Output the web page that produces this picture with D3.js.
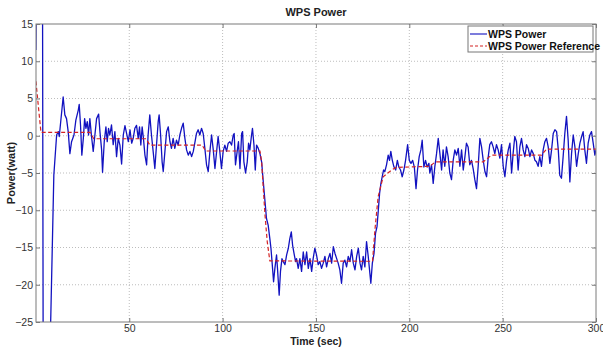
<!DOCTYPE html>
<html>
<head>
<meta charset="utf-8">
<script src="https://d3js.org/d3.v7.min.js"></script>
<style>
  body { margin: 0; background: #fff; }
  svg { display: block; font-family: "Liberation Sans", Arial, sans-serif; }
</style>
</head>
<body>
<div id="chart"></div>
<script>
// Measured WPS power (time in sec, power in watt)
const powerTime = [
    0, 0.8, 3.4, 4.0, 6.0, 8.0, 9.6, 11.1, 12.0, 12.5, 14.6, 15.5, 16.4, 17.3, 18.2, 19.1, 20.4, 21.4, 22.7, 23.2,
    23.9, 24.6, 25.4, 26.1, 26.8, 27.5, 28.2, 28.9, 29.8, 30.7, 31.6, 32.5, 33.6, 34.3, 35.2, 35.7, 36.6, 37.5, 38.2, 38.9,
    39.6, 40.5, 41.4, 42.3, 43.2, 44.1, 45.0, 45.9, 46.8, 47.7, 48.6, 49.5, 50.4, 51.3, 52.1, 53.0, 53.9, 54.8, 55.5, 56.2,
    56.9, 57.6, 58.4, 59.3, 60.1, 61.0, 61.9, 62.8, 63.7, 64.6, 65.5, 66.0, 66.8, 67.6, 68.2, 69.1, 70.0, 70.9, 71.8, 72.6,
    73.5, 74.4, 75.3, 76.2, 77.1, 78.0, 78.9, 79.8, 80.7, 81.6, 82.5, 83.4, 84.3, 85.1, 86.0, 86.9, 87.8, 88.7, 89.6, 90.5,
    91.4, 92.3, 93.2, 94.1, 95.0, 95.9, 96.8, 97.6, 98.5, 99.4, 100.3, 101.2, 102.1, 103.0, 103.9, 104.8, 105.7, 106.2, 106.9, 107.8,
    108.5, 109.3, 110.2, 110.7, 111.4, 112.3, 113.2, 113.9, 114.6, 115.5, 116.0, 116.8, 117.5, 118.2, 119.1, 120.0, 120.9, 121.8, 122.7, 123.5,
    124.4, 125.3, 125.9, 126.6, 127.3, 128.0, 128.9, 129.4, 130.3, 131.0, 131.8, 132.5, 133.4, 134.3, 135.2, 136.0, 136.8, 137.5, 138.4, 139.1,
    139.6, 140.5, 141.4, 142.3, 143.2, 144.1, 145.0, 145.9, 146.8, 147.7, 148.5, 149.4, 150.3, 151.2, 152.1, 153.0, 153.9, 154.8, 155.7, 156.6,
    157.5, 158.4, 159.3, 160.2, 161.1, 161.9, 162.8, 163.7, 164.6, 165.5, 166.4, 167.3, 168.2, 169.1, 170.0, 170.9, 171.8, 172.7, 173.6, 174.4,
    175.3, 176.2, 177.1, 178.0, 178.9, 179.4, 180.2, 181.1, 181.9, 182.7, 183.4, 184.1, 184.8, 185.5, 186.2, 186.9, 187.8, 188.7, 189.4, 190.1,
    190.9, 191.8, 192.7, 193.6, 194.4, 195.3, 196.2, 197.1, 198.0, 199.1, 200.0, 200.9, 201.8, 202.7, 203.6, 204.4, 205.3, 206.2, 206.9, 207.8,
    208.7, 209.6, 210.5, 211.0, 211.9, 212.8, 213.7, 214.6, 215.5, 216.4, 217.3, 218.1, 219.0, 219.9, 220.8, 221.7, 222.6, 223.5, 224.4, 225.3,
    226.2, 227.1, 228.0, 228.9, 229.8, 230.6, 231.5, 232.4, 233.3, 234.2, 235.1, 236.0, 236.9, 237.8, 238.7, 239.6, 240.5, 241.4, 242.3, 243.1,
    244.0, 244.9, 245.8, 246.7, 247.6, 248.5, 249.4, 250.3, 251.2, 252.1, 253.0, 253.9, 254.8, 255.6, 256.5, 257.4, 258.3, 259.2, 260.1, 261.0,
    261.9, 262.8, 263.7, 264.6, 265.5, 266.4, 267.3, 268.1, 269.0, 269.9, 270.8, 271.7, 272.6, 273.5, 274.4, 275.3, 276.2, 277.1, 278.0, 278.9,
    279.8, 280.6, 281.5, 282.4, 283.3, 284.2, 285.1, 286.0, 286.9, 287.8, 288.7, 289.6, 290.5, 291.4, 292.3, 293.1, 294.0, 294.9, 295.8, 296.7,
    297.6, 298.5, 299.4, 300.0
];
const powerValue = [
    11.5, 40, 40, -45, -45, -24, -5.3, 0.1, 0.55, -0.1, 5.2, 2.8, 2.3, 0.55, -2.4, -0.8, 0.1, 2.1, 3.45, 4.2,
    1.45, -2.6, -0.35, 2.3, 1.0, 1.9, 0.1, 2.3, -0.1, -2.1, 0.1, 2.3, 2.9, 0.55, -1.9, -4.9, -0.8, 1.2, -0.8, 1.0,
    0.1, 1.45, -1.2, 0.55, -2.8, -0.35, -1.25, -3.8, 0.1, 1.35, 0.3, -0.8, 0.8, -1.0, -0.35, 1.0, 1.4, -0.35, 1.2, -1.25,
    1.2, -0.35, -2.6, -3.9, 0.1, 2.8, 0.1, -2.1, -4.4, -1.25, 1.9, 2.8, 0.1, -3.5, -4.8, -2.1, 0.55, 1.2, -0.8, -1.7,
    -0.35, -1.7, -0.6, -1.25, 0.1, 1.0, 1.7, -0.35, -1.9, -2.6, -2.1, -2.8, -2.1, -1.0, 0.3, 0.8, 0.1, 1.0, 0.3, -1.7,
    -3.9, -4.8, -2.1, 0.1, -1.9, -4.4, -2.1, -0.1, -2.1, -4.4, -2.1, -1.25, -2.1, -1.0, -0.8, -1.25, 0.1, 0.3, -3.9, -2.1,
    -0.8, -4.4, 0.3, 0.55, -3.5, -5.0, -3.5, -1.0, -1.9, 0.1, 1.0, -1.25, -4.6, -1.25, -1.7, -2.4, -3.5, -6.2, -8.8, -11.1,
    -12.0, -13.8, -15.1, -17.3, -19.6, -17.8, -16.0, -17.8, -21.4, -18.2, -16.5, -16.9, -17.3, -16.0, -15.1, -13.8, -12.9, -14.7, -16.0, -16.9,
    -16.5, -17.8, -16.5, -18.2, -15.6, -17.3, -15.6, -17.8, -16.5, -18.2, -16.5, -15.1, -16.0, -17.3, -16.9, -17.8, -17.1, -16.2, -17.6, -16.5,
    -15.8, -17.1, -14.9, -15.8, -16.5, -17.1, -18.0, -19.8, -17.1, -16.7, -17.6, -16.2, -16.9, -15.3, -17.1, -18.0, -16.2, -15.1, -17.1, -18.0,
    -16.2, -17.6, -14.2, -16.2, -18.5, -19.8, -17.1, -15.8, -13.1, -12.2, -10.0, -7.7, -6.4, -5.5, -4.6, -4.8, -3.9, -2.6, -3.3, -2.1,
    -3.3, -4.2, -4.6, -3.3, -4.2, -4.6, -5.5, -4.6, -3.3, -1.2, -3.3, -3.7, -3.3, -4.2, -7.1, -4.6, -2.8, -1.9, -0.6, -4.2,
    -3.3, -4.2, -3.7, -5.0, -3.9, -6.4, -4.1, -2.4, -0.35, -2.4, -4.6, -1.9, -4.1, -1.5, -2.8, -5.0, -5.9, -3.3, -1.9, -2.6,
    -1.7, -4.1, -1.9, -4.6, -2.8, -1.0, -1.5, -3.9, -3.3, -4.4, -5.9, -7.1, -4.1, -0.35, -1.5, -3.3, -4.8, -5.5, -2.8, -1.2,
    -0.8, -1.5, -2.4, -1.2, -1.9, -3.0, -1.2, -4.1, -5.5, -3.3, -1.9, -1.0, -5.0, -2.4, -0.1, -0.8, -4.6, -1.5, -0.35, -1.9,
    -2.8, -1.2, -1.7, -2.8, -1.9, -2.4, -3.3, -3.5, -4.1, -2.8, -4.1, -1.9, -0.8, -0.35, -1.5, -3.7, -1.9, 0.3, 0.8, 0.55,
    -1.9, -5.3, -5.7, -2.8, 0.3, 2.6, -0.6, -6.2, -2.4, 0.1, -1.5, -4.1, -2.4, -1.0, -0.1, 0.55, -1.9, -3.7, -1.0, 0.1,
    0.55, -1.0, -2.6, -1.9
];

// Power reference (time in sec, power in watt)
const refTime = [
    0, 2.7, 29, 31, 59, 61, 89, 91, 120.0, 120.9, 121.8, 122.7, 123.9, 125.3, 180.3, 181.6, 183.3, 186, 190.5, 193,
    211, 214, 239.6, 244, 270.8, 273.5, 300
];
const refValue = [
    7.3, 0.45, 0.45, -0.4, -0.4, -1.25, -1.25, -2.05, -2.05, -3.5, -7.1, -10.6, -14.2, -16.8, -16.85, -12.6, -8.2, -5.5, -4.6, -4.25,
    -4.1, -3.5, -3.5, -2.6, -2.6, -1.8, -1.8
];

const xTicks = [50, 100, 150, 200, 250, 300];
const yTicks = [-25, -20, -15, -10, -5, 0, 5, 10, 15];
const legendLabels = ["WPS Power", "WPS Power Reference"];

const W = 603, H = 348;
const margin = { top: 24, right: 7, bottom: 26, left: 36 };
const width = W - margin.left - margin.right;
const height = H - margin.top - margin.bottom;

const svg = d3.select("#chart").append("svg")
    .attr("width", W)
    .attr("height", H);

const g = svg.append("g")
    .attr("transform", `translate(${margin.left},${margin.top})`);

const x = d3.scaleLinear().domain([0.05, 300]).range([0, width]);
const y = d3.scaleLinear().domain([-25, 15]).range([height, 0]);

// grid
g.append("g").selectAll("line")
    .data(xTicks.filter(d => d < 300))
    .join("line")
    .attr("x1", d => x(d)).attr("x2", d => x(d))
    .attr("y1", 0).attr("y2", height)
    .attr("stroke", "#bdbdbd").attr("stroke-dasharray", "1,2");

g.append("g").selectAll("line")
    .data(yTicks.filter(d => d > -25 && d < 15))
    .join("line")
    .attr("x1", 0).attr("x2", width)
    .attr("y1", d => y(d)).attr("y2", d => y(d))
    .attr("stroke", "#bdbdbd").attr("stroke-dasharray", "1,2");

// lines
svg.append("defs").append("clipPath").attr("id", "clip")
    .append("rect").attr("width", width).attr("height", height);

const power = powerTime.map((t, i) => ({ t, v: powerValue[i] }));
const ref = refTime.map((t, i) => ({ t, v: refValue[i] }));

const line = d3.line().x(d => x(d.t)).y(d => y(d.v));

const lines = g.append("g").attr("clip-path", "url(#clip)");

lines.append("path")
    .datum(power)
    .attr("d", line)
    .attr("fill", "none")
    .attr("stroke", "#1212c0")
    .attr("stroke-width", 1.3)
    .attr("stroke-linejoin", "round");

lines.append("path")
    .datum(ref)
    .attr("d", line)
    .attr("fill", "none")
    .attr("stroke", "#d42222")
    .attr("stroke-width", 1.2)
    .attr("stroke-dasharray", "4,2.5");

// axes (ticks inward, like matlab)
const axisColor = "#7a7a7a";
const styleAxis = sel => {
    sel.selectAll(".domain").remove();
    sel.selectAll(".tick line").attr("stroke", axisColor);
    sel.selectAll("text").attr("fill", "#333").style("font-size", "10.5px");
};

g.append("g")
    .attr("transform", `translate(0,${height})`)
    .call(d3.axisBottom(x).tickValues(xTicks).tickSizeInner(-4).tickSizeOuter(0).tickPadding(3))
    .call(styleAxis);

g.append("g")
    .call(d3.axisTop(x).tickValues(xTicks).tickSizeInner(-4).tickSizeOuter(0).tickFormat(""))
    .call(styleAxis);

g.append("g")
    .call(d3.axisLeft(y).tickValues(yTicks).tickSizeInner(-4).tickSizeOuter(0).tickPadding(3))
    .call(styleAxis);

g.append("g")
    .attr("transform", `translate(${width},0)`)
    .call(d3.axisRight(y).tickValues(yTicks).tickSizeInner(-4).tickSizeOuter(0).tickFormat(""))
    .call(styleAxis);

g.append("rect")
    .attr("width", width).attr("height", height)
    .attr("fill", "none").attr("stroke", axisColor).attr("stroke-width", 1);

// title & labels
svg.append("text")
    .attr("x", margin.left + width / 2).attr("y", 16)
    .attr("text-anchor", "middle")
    .style("font-size", "11px").style("font-weight", "bold")
    .attr("fill", "#222")
    .text("WPS Power");

svg.append("text")
    .attr("x", margin.left + width / 2).attr("y", 345)
    .attr("text-anchor", "middle")
    .style("font-size", "10.5px").style("font-weight", "bold")
    .attr("fill", "#222")
    .text("Time (sec)");

svg.append("text")
    .attr("transform", `translate(15,${margin.top + height / 2}) rotate(-90)`)
    .attr("text-anchor", "middle")
    .style("font-size", "11px").style("font-weight", "bold")
    .attr("fill", "#222")
    .text("Power(watt)");

// legend
const legend = svg.append("g").attr("transform", "translate(468,26)");
legend.append("rect")
    .attr("width", 125).attr("height", 26)
    .attr("fill", "#fff").attr("stroke", "#777");

const legendStyle = [
    { color: "#1212c0", dash: null },
    { color: "#d42222", dash: "3,2" }
];

legendLabels.forEach((label, i) => {
    const row = legend.append("g").attr("transform", `translate(0,${8 + i * 12})`);
    row.append("line")
        .attr("x1", 2).attr("x2", 19)
        .attr("stroke", legendStyle[i].color)
        .attr("stroke-width", 1.1)
        .attr("stroke-dasharray", legendStyle[i].dash);
    row.append("text")
        .attr("x", 20).attr("y", 4)
        .style("font-size", "10.5px").style("font-weight", "bold")
        .attr("fill", "#111")
        .text(label);
});
</script>
</body>
</html>
